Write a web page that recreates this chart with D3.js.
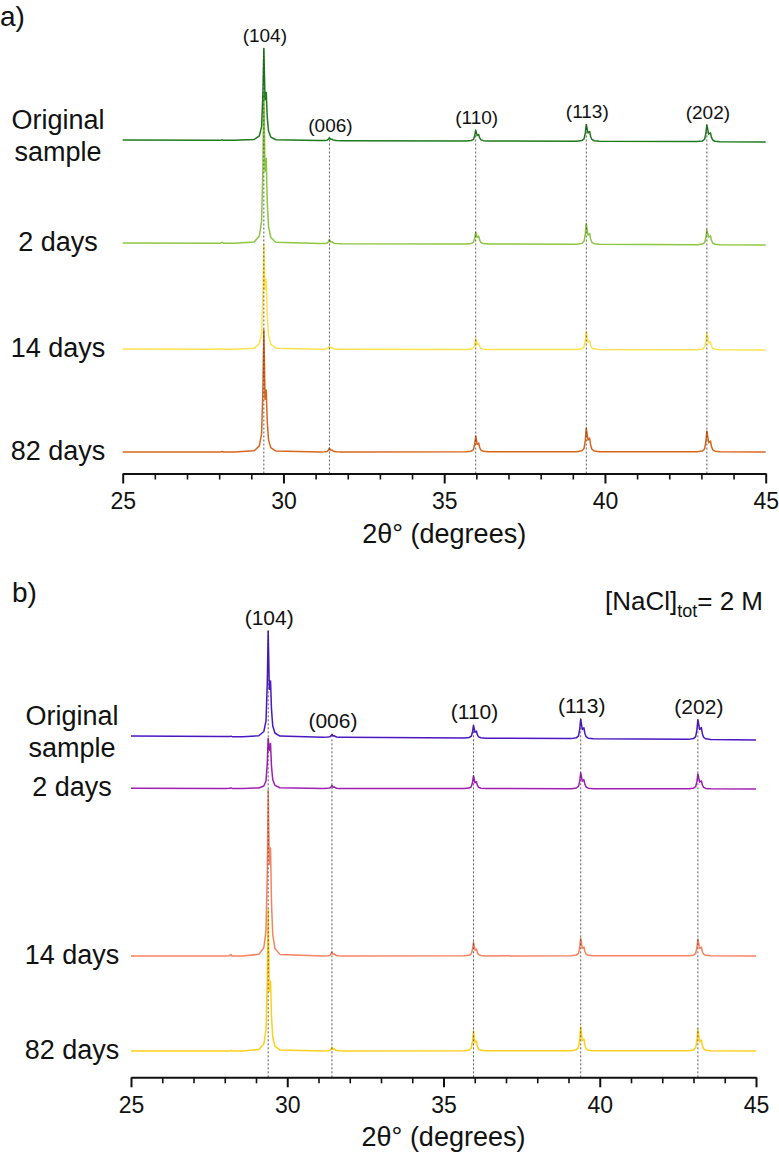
<!DOCTYPE html>
<html>
<head>
<meta charset="utf-8">
<script src="https://cdn.jsdelivr.net/npm/d3@7"></script>
<style>
    body { margin: 0; background: #fff; }
    svg { display: block; font-family: "Liberation Sans", Arial, sans-serif; }
</style>
</head>
<body>
<div id="chart"></div>
<script>
// ---- values ----
const majorTicks = [25, 30, 35, 40, 45];
const hklLabels = ['(104)', '(006)', '(110)', '(113)', '(202)'];

// 2θ of a tiny bump + the five labelled calcite reflections
const peakPosA = [28.1, 29.39, 31.43, 35.98, 39.42, 43.17];
const peakPosB = [28.2, 29.39, 31.43, 35.96, 39.39, 43.14];
// Ka1-Ka2 splitting for each reflection (deg)
const doubletGap = [0.07, 0.075, 0.08, 0.093, 0.104, 0.113];

// panel a)
const labelsA = [['Original', 'sample'], ['2 days'], ['14 days'], ['82 days']];
const colorsA = ['#1d7a1d', '#8dc641', '#ffe24f', '#d9651b'];
const baseStartA = [333.5, 230.5, 124.5, 21.5];   // baseline at 25°
const baseEndA = [331.5, 228.5, 123.5, 21.5];     // baseline at 45°
const mainA = [
    [0.5, 92, 3, 11, 17, 17],
    [1, 150, 4, 12, 21, 15],
    [0.5, 105, 3, 11, 18, 17],
    [0.5, 122, 4, 16, 24, 21]
];
const shoulderA = [
    [0, 48, 1.5, 6.5, 10, 9],
    [0, 85, 2, 8, 11, 9],
    [0, 70, 1.5, 6, 9, 8],
    [0, 62, 2, 9, 14, 11]
];

// panel b)
const labelsB = [['Original', 'sample'], ['2 days'], ['14 days'], ['82 days']];
const colorsB = ['#4a17c2', '#a21db3', '#f7825f', '#ffcf1c'];
const baseStartB = [341.3, 289, 121.3, 26.3];
const baseEndB = [337.3, 288.3, 121.3, 26.3];
const mainB = [
    [0.5, 106, 3, 13, 20, 20],
    [0.5, 50, 3, 13, 16, 15],
    [1.5, 166, 4, 14, 18, 17],
    [0.5, 141, 4, 20, 24, 22]
];
const shoulderB = [
    [0, 56, 1.5, 7, 11, 12],
    [0, 45, 1.5, 7, 9, 8],
    [0, 108, 2, 7, 9, 9],
    [0, 70, 2, 10, 12, 11]
];

// drawing template for one reflection (flanks of a sharp peak)
const leftDx = [-0.30, -0.14, -0.07, -0.03];
const leftRel = [0.01, 0.05, 0.15, 0.5];
const rightDx = [0.03, 0.07, 0.14, 0.30];
const rightRel = [0.5, 0.2, 0.07, 0.015];

const W = 779, H = 1154;
const svg = d3.select('#chart').append('svg')
    .attr('width', W)
    .attr('height', H);

function tracePoints(pos, mains, shoulders, b0, b1) {
    const base = x => b0 + (b1 - b0) * (x - 25) / 20;
    const pts = [[25, base(25)]];
    pos.forEach((p, i) => {
        const h = mains[i], s = shoulders[i], g = doubletGap[i];
        leftDx.forEach((dx, k) => pts.push([p + dx, base(p + dx) + leftRel[k] * h]));
        pts.push([p, base(p) + h]);
        pts.push([p + g * 0.5, base(p + g * 0.5) + 0.85 * s]);
        pts.push([p + g, base(p + g) + s]);
        rightDx.forEach((dx, k) => pts.push([p + g + dx, base(p + g + dx) + rightRel[k] * s]));
    });
    pts.push([45, base(45)]);
    return pts;
}

function drawPanel(cfg) {
    const g = svg.append('g');

    const x = d3.scaleLinear().domain([25, 45]).range(cfg.xRange);
    const y = d3.scaleLinear().domain([0, 430]).range([cfg.axisY, cfg.axisY - 430]);

    const line = d3.line()
        .x(d => x(d[0]))
        .y(d => y(d[1]));

    // traces, bottom one first
    d3.range(cfg.colors.length - 1, -1, -1).forEach(i => {
        g.append('path')
            .datum(tracePoints(cfg.pos, cfg.mains[i], cfg.shoulders[i], cfg.baseStart[i], cfg.baseEnd[i]))
            .attr('d', line)
            .attr('fill', 'none')
            .attr('stroke', cfg.colors[i])
            .attr('stroke-width', 1.5)
            .attr('stroke-linejoin', 'round');
    });

    // reflection markers
    const refl = cfg.pos.slice(1).map((p, i) => {
        const b = cfg.baseStart[0] + (cfg.baseEnd[0] - cfg.baseStart[0]) * (p - 25) / 20;
        return { pos: p, top: b + cfg.mains[0][i + 1], label: hklLabels[i] };
    });

    g.selectAll('line.refl')
        .data(refl)
        .join('line')
        .attr('class', 'refl')
        .attr('x1', d => x(d.pos))
        .attr('x2', d => x(d.pos))
        .attr('y1', y(0))
        .attr('y2', d => y(d.top))
        .attr('stroke', '#333')
        .attr('stroke-width', 0.8)
        .attr('stroke-dasharray', '2,2');

    g.selectAll('text.hkl')
        .data(refl)
        .join('text')
        .attr('class', 'hkl')
        .attr('x', d => x(d.pos) + 1)
        .attr('y', d => y(d.top) - 6)
        .attr('text-anchor', 'middle')
        .style('font-size', cfg.hklSize + 'px')
        .style('fill', '#111')
        .text(d => d.label);

    // series names
    cfg.labels.forEach((lines, i) => {
        const yb = y(cfg.baseStart[i]);
        const t = g.append('text')
            .attr('x', cfg.labelX)
            .attr('text-anchor', 'middle')
            .style('font-size', '27px')
            .style('fill', '#111');
        if (lines.length === 2) {
            t.append('tspan').attr('x', cfg.labelX).attr('y', yb - 11.5).text(lines[0]);
            t.append('tspan').attr('x', cfg.labelX).attr('y', yb + 20.5).text(lines[1]);
        } else {
            t.attr('y', yb + 8).text(lines[0]);
        }
    });

    // axis: minor then major ticks
    const minor = d3.range(25, 46).filter(v => v % 5 !== 0);
    const minorAxis = g.append('g')
        .attr('transform', `translate(0,${cfg.axisY})`)
        .call(d3.axisBottom(x).tickValues(minor).tickSize(6).tickSizeOuter(0).tickFormat(''));
    minorAxis.select('.domain').remove();
    minorAxis.selectAll('line').attr('stroke', '#111').attr('stroke-width', 1.6);

    const majorAxis = g.append('g')
        .attr('transform', `translate(0,${cfg.axisY})`)
        .call(d3.axisBottom(x).tickValues(majorTicks).tickSize(10).tickSizeOuter(0).tickPadding(9));
    majorAxis.attr('font-size', 23).attr('font-family', '"Liberation Sans", Arial, sans-serif');
    majorAxis.select('.domain').attr('stroke', '#111').attr('stroke-width', 2);
    majorAxis.selectAll('line').attr('stroke', '#111').attr('stroke-width', 2);
    majorAxis.selectAll('text').attr('fill', '#111');

    g.append('text')
        .attr('x', (cfg.xRange[0] + cfg.xRange[1]) / 2)
        .attr('y', cfg.axisY + 69)
        .attr('text-anchor', 'middle')
        .style('font-size', '27px')
        .style('fill', '#111')
        .text('2θ° (degrees)');

    g.append('text')
        .attr('x', cfg.tag[1])
        .attr('y', cfg.tag[2])
        .style('font-size', '28px')
        .style('fill', '#111')
        .text(cfg.tag[0]);
}

drawPanel({
    xRange: [122.7, 765.7], axisY: 473.5, labelX: 58, hklSize: 19,
    pos: peakPosA, colors: colorsA, labels: labelsA,
    baseStart: baseStartA, baseEnd: baseEndA, mains: mainA, shoulders: shoulderA,
    tag: ['a)', 0, 26]
});

drawPanel({
    xRange: [131, 756], axisY: 1077.3, labelX: 72, hklSize: 21,
    pos: peakPosB, colors: colorsB, labels: labelsB,
    baseStart: baseStartB, baseEnd: baseEndB, mains: mainB, shoulders: shoulderB,
    tag: ['b)', 12, 602]
});

// concentration note in panel b
const note = svg.append('text')
    .attr('x', 763)
    .attr('y', 610)
    .attr('text-anchor', 'end')
    .style('font-size', '26px')
    .style('fill', '#111');
note.append('tspan').text('[NaCl]');
note.append('tspan').attr('dy', 7).style('font-size', '18px').text('tot');
note.append('tspan').attr('dy', -7).text('= 2 M');
</script>
</body>
</html>
